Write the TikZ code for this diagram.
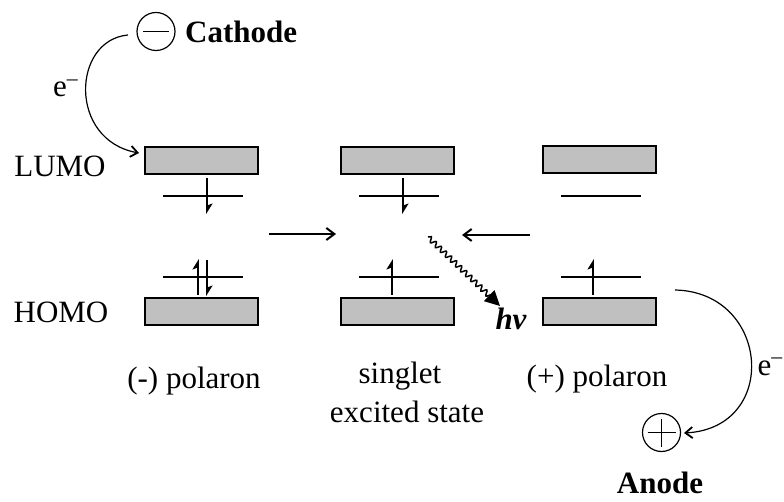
\documentclass[tikz,border=0pt]{standalone}
\usepackage{fontspec}
\setmainfont{Liberation Serif}
\usetikzlibrary{arrows.meta,decorations.pathmorphing}
\definecolor{boxgray}{HTML}{C0C0C0}
\tikzset{
  lvlbox/.style={draw, fill=boxgray, line width=2pt, minimum width=113pt, minimum height=27pt, inner sep=0pt},
  lvlline/.style={line width=2pt},
  spin/.style={line width=2pt, -{Stealth[harpoon,length=9pt,width=11pt,inset=2pt]}},
  txt/.style={inner sep=0pt, font=\fontsize{31}{36}\selectfont},
  btxt/.style={inner sep=0pt, font=\fontsize{31}{36}\selectfont\bfseries},
  electrode/.style={draw, circle, line width=1.2pt, minimum size=38pt, inner sep=0pt},
  flow/.style={line width=1.5pt, -{Straight Barb[length=8pt,width=12pt,line width=2pt]}},
  hop/.style={line width=1.2pt, -{Straight Barb[length=7pt,width=11pt,line width=1.8pt]}},
}
\begin{document}
\begin{tikzpicture}[x=1pt,y=-1pt]
\useasboundingbox (0,0) rectangle (784,502);
% labels
\node[txt, anchor=base] (lumo) at (60,177) {LUMO};
\node[txt, anchor=base] (homo) at (61,323) {HOMO};
% boxes
\node[lvlbox] (L1) at (201.5,160.5) {};
\node[lvlbox] (L2) at (397,160.5) {};
\node[lvlbox] (L3) at (599.5,160) {};
\node[lvlbox] (H1) at (201.5,312) {};
\node[lvlbox] (H2) at (397,312) {};
\node[lvlbox] (H3) at (599.5,312) {};
% level lines
\foreach \c/\x in {1/201.5,2/397,3/599.5}{
  \coordinate (la\c) at (\x-38.5,196);
  \coordinate (lb\c) at (\x+41.5,196);
  \coordinate (ha\c) at (\x-38.5,277);
  \coordinate (hb\c) at (\x+41.5,277);
  \draw[lvlline] (la\c) -- (lb\c);
  \draw[lvlline] (ha\c) -- (hb\c);
}
% spins
\draw[spin] (207,178) -- (207,214);
\draw[spin] (198,295) -- (198,259);
\draw[spin] (207,260) -- (207,296);
\draw[spin] (403,178) -- (403,214);
\draw[spin] (392,295) -- (392,259);
\draw[spin] (593,295) -- (593,259);
% transfer arrows
\coordinate (f1a) at (269,234);
\coordinate (f1b) at (336,234);
\coordinate (f2a) at (530,235);
\coordinate (f2b) at (462,235);
\draw[flow] (f1a) -- (f1b);
\draw[flow] (f2a) -- (f2b);
% emission
\coordinate (wa) at (428,237);
\coordinate (wb) at (500,306);
\draw[line width=1.5pt, -{Triangle[length=15pt,width=15pt]},
  decorate, decoration={snake, amplitude=2.5pt, segment length=7pt, post length=10pt}] (wa) -- (wb);
\node[btxt, anchor=base, font=\fontsize{31}{36}\selectfont\bfseries\itshape] (hv) at (511,330) {hv};
% state labels
\node[txt, anchor=base] (pol1) at (194,388) {(-) polaron};
\node[txt, anchor=base] (sing) at (400,383) {singlet};
\node[txt, anchor=base] (exc) at (407,422) {excited state};
\node[txt, anchor=base] (pol2) at (597,386) {(+) polaron};
% cathode
\node[electrode] (cath) at (156,31.5) {};
\draw[line width=1.5pt] ([xshift=-13pt]cath.center) -- ([xshift=13pt]cath.center);
\node[btxt, anchor=base west] (cathl) at (185,43) {Cathode};
\coordinate (ca) at (128,35);
\coordinate (cb) at (139,153);
\draw[hop] (ca) .. controls (72,40) and (68,140) .. (cb);
\node[txt, anchor=base west] (e1) at (53,97) {e\raisebox{2pt}{\textsuperscript{--}}};
% anode
\node[electrode] (an) at (661.5,432.5) {};
\draw[line width=1.5pt] ([xshift=-14pt]an.center) -- ([xshift=14pt]an.center);
\draw[line width=1.5pt] ([yshift=-14pt]an.center) -- ([yshift=14pt]an.center);
\node[btxt, anchor=base] (anl) at (660,493) {Anode};
\coordinate (aa) at (675,290);
\coordinate (ab) at (684,433);
\draw[hop] (aa) .. controls (770,292) and (780,428) .. (ab);
\node[txt, anchor=base east] (e2) at (783,375) {e\raisebox{2pt}{\textsuperscript{--}}};
\end{tikzpicture}
\end{document}
